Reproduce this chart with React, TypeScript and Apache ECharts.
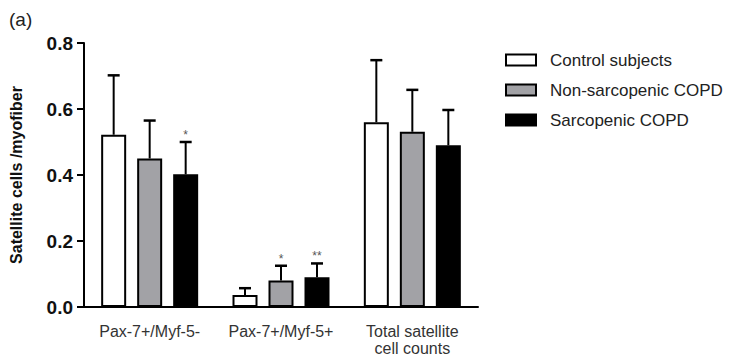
import React, { useEffect, useRef } from "react";
import * as echarts from "echarts";

const categories = ["Pax-7+/Myf-5-", "Pax-7+/Myf-5+", "Total satellite\ncell counts"];
const seriesNames = ["Control subjects", "Non-sarcopenic COPD", "Sarcopenic COPD"];
const controlMean = [0.522, 0.036, 0.56];
const controlUpper = [0.702, 0.057, 0.748];
const nonSarcMean = [0.45, 0.08, 0.531];
const nonSarcUpper = [0.565, 0.125, 0.658];
const sarcMean = [0.402, 0.09, 0.49];
const sarcUpper = [0.5, 0.132, 0.597];
const controlMarks = ["", "", ""];
const nonSarcMarks = ["", "*", ""];
const sarcMarks = ["*", "**", ""];
const yTicks = [0, 0.2, 0.4, 0.6, 0.8];

const fills = ["#ffffff", "#a2a2a6", "#000000"];
const BAR_W = 25;
const BAR_GAP = 11;
const FONT = "Liberation Sans, Arial, sans-serif";

export default function App() {
  const ref = useRef<HTMLDivElement>(null);
  useEffect(() => {
    if (!ref.current) return;
    const chart = echarts.init(ref.current, undefined, { renderer: "svg" });
    const means = [controlMean, nonSarcMean, sarcMean];
    const uppers = [controlUpper, nonSarcUpper, sarcUpper];
    const marks = [controlMarks, nonSarcMarks, sarcMarks];

    const barSeries = seriesNames.map((name, i) => ({
      name,
      type: "bar",
      data: means[i],
      barWidth: BAR_W,
      barGap: (BAR_GAP / BAR_W) * 100 + "%",
      itemStyle: { color: fills[i], borderColor: "#000", borderWidth: 2 },
      z: 2,
    }));

    const errSeries = seriesNames.map((name, i) => ({
      name: name + " err",
      type: "custom",
      z: 3,
      data: categories.map((_, k) => [k, means[i][k], uppers[i][k]]),
      renderItem: (params: any, api: any) => {
        const x = api.value(0);
        const base = api.coord([x, api.value(1)]);
        const top = api.coord([x, api.value(2)]);
        const mk = marks[i][params.dataIndex];
        const off = (i - 1) * (BAR_W + BAR_GAP);
        const cx = base[0] + off;
        const children: any[] = [
          { type: "line", shape: { x1: cx, y1: base[1], x2: cx, y2: top[1] }, style: { stroke: "#000", lineWidth: 2 } },
          { type: "line", shape: { x1: cx - 6, y1: top[1], x2: cx + 6, y2: top[1] }, style: { stroke: "#000", lineWidth: 2.5 } },
        ];
        if (mk) {
          children.push({
            type: "text",
            style: {
              text: mk, x: cx, y: top[1] - 1, align: "center", verticalAlign: "bottom",
              fill: "#555", fontSize: 12, fontFamily: FONT,
            },
          });
        }
        return { type: "group", children };
      },
    }));

    chart.setOption({
      animation: false,
      backgroundColor: "#fff",
      textStyle: { fontFamily: FONT },
      graphic: [
        { type: "text", left: 9, top: 10, style: { text: "(a)", fontSize: 19, fill: "#222", fontFamily: FONT } },
      ],
      legend: {
        orient: "vertical",
        left: 505,
        top: 49,
        padding: 0,
        itemWidth: 30,
        itemHeight: 11,
        itemGap: 8,
        icon: "rect",
        data: seriesNames,
        textStyle: { fontSize: 17, color: "#222", lineHeight: 22, padding: [0, 0, 0, 9] },
      },
      grid: { left: 80, top: 43, width: 398, height: 264, containLabel: false },
      xAxis: {
        type: "category",
        data: categories,
        axisLine: { lineStyle: { color: "#000", width: 2 } },
        axisTick: { show: false },
        axisLabel: { interval: 0, hideOverlap: false, fontSize: 16, color: "#333", margin: 16, lineHeight: 17 },
      },
      yAxis: {
        type: "value",
        min: yTicks[0],
        max: yTicks[yTicks.length - 1],
        interval: 0.2,
        name: "Satellite cells /myofiber",
        nameLocation: "middle",
        nameGap: 60,
        nameTextStyle: { fontSize: 16, fontWeight: "bold", color: "#111" },
        axisLine: { show: true, lineStyle: { color: "#000", width: 2 } },
        axisTick: { show: true, length: 7, lineStyle: { color: "#000", width: 2 } },
        axisLabel: { fontSize: 19, fontWeight: "bold", color: "#111", margin: 11, formatter: (v: number) => v.toFixed(1) },
        splitLine: { show: false },
      },
      series: [...barSeries, ...errSeries],
    } as any);
    return () => chart.dispose();
  }, []);
  return <div ref={ref} style={{ position: "fixed", left: 0, top: 0, width: 744, height: 360 }} />;
}
